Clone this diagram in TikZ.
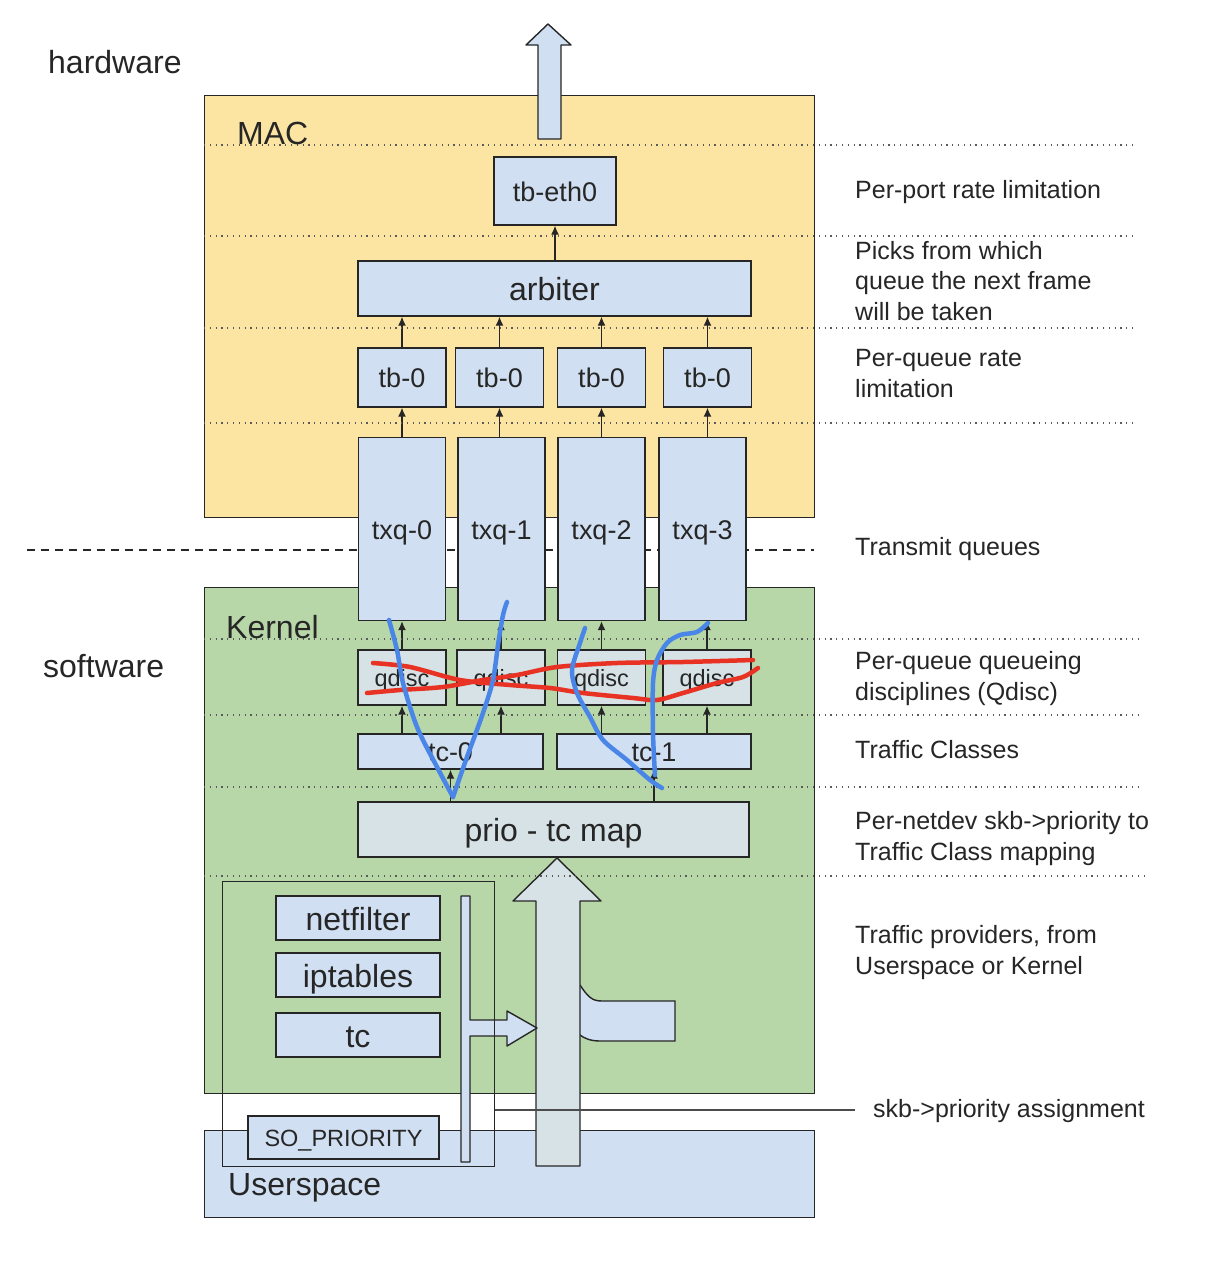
\documentclass[tikz,border=0pt]{standalone}
\usepackage{fontspec}
\setmainfont{Liberation Sans}
\usetikzlibrary{positioning}
\usetikzlibrary{arrows.meta}

\definecolor{macyellow}{RGB}{252,229,163}
\definecolor{kernelgreen}{RGB}{183,215,168}
\definecolor{boxblue}{RGB}{208,223,241}
\definecolor{boxcyan}{RGB}{214,226,230}
\definecolor{penblue}{RGB}{74,134,232}
\definecolor{penred}{RGB}{232,50,36}

\tikzset{
    block/.style={ % light blue boxes
    rectangle, draw=black!85, line width=1.4pt, fill=boxblue,
    inner sep=0pt, text height=21.5pt, text depth=1.3pt,
    font=\fontsize{27}{32}\selectfont},
    bigblock/.style={block, text height=25.5pt, text depth=1.5pt, font=\fontsize{32}{38}\selectfont},
    qbox/.style={block, fill=boxcyan, text height=18.5pt, text depth=1.2pt, font=\fontsize{23.5}{28}\selectfont},
    layer/.style={rectangle, draw=black!85, line width=1.4pt, inner sep=0pt, anchor=north west},
    flow/.style={-{Latex[length=9pt,width=8pt]}, line width=1.3pt, black!85}}

\begin{document}
\begin{tikzpicture}[
            x=1pt, y=-1pt,
            every node/.style={text=black!85},
            areaname/.style={anchor=base west, inner sep=0pt, font=\fontsize{32}{38}\selectfont},
            note/.style={anchor=base west, align=left, inner sep=0pt, font=\fontsize{25}{30.5}\selectfont},
            guide/.style={black!65, line width=1.1pt, dash pattern=on 1.2pt off 4.6pt},
            scribble/.style={line width=4.5pt, line cap=round, line join=round}
        ]
        \useasboundingbox (0,0) rectangle (1224,1264);

        % Layers
        \node[layer, fill=macyellow, minimum width=610, minimum height=422] (mac) at (204,95) {};
        \node[layer, fill=kernelgreen, minimum width=610, minimum height=506] (kernel) at (204,587) {};
        \node[layer, fill=boxblue, minimum width=610, minimum height=87] (userspace) at (204,1130) {};

        % hardware / software boundary
        \draw[black!85, line width=1.2pt, dash pattern=on 8pt off 6pt] (27,550) -- (814,550);

        % Out to the wire
        \filldraw[fill=boxblue, draw=black!85, line width=1.4pt, line join=round]
            (538,139) -- (538,45) -- (526,45) -- (548,24) -- (571,45) -- (561,45) -- (561,139) -- cycle;

        % MAC blocks
        \node[block, minimum width=122, minimum height=68] (tbeth) at (555,191) {tb-eth0};
        \node[bigblock, minimum width=393, minimum height=55] (arbiter) at (554.5,288.5) {arbiter};
        \foreach \n/\x in {0/402,1/499.5,2/601.5,3/707.5}
            \node[block, minimum width=88, minimum height=59] (tb\n) at (\x,377.5) {tb-0};
        \foreach \n/\x in {0/402,1/501.5,2/601.5,3/702.5}
            \node[block, minimum width=87, minimum height=183] (txq\n) at (\x,529) {txq-\n};

        % Kernel blocks
        \foreach \n/\x in {0/402,1/501,2/601.5,3/707}
            \node[qbox, minimum width=88, minimum height=55] (qd\n) at (\x,677.5) {qdisc};
        \node[block, minimum width=185, minimum height=35] (tc0) at (450.5,751.5) {tc-0};
        \node[block, minimum width=194, minimum height=35] (tc1) at (654,751.5) {tc-1};
        \node[bigblock, fill=boxcyan, minimum width=391, minimum height=55] (prio) at (553.5,829.5) {prio - tc map};

        % Traffic providers
        \node[bigblock, minimum width=164, minimum height=44] (netfilter) at (358,918) {netfilter};
        \node[bigblock, minimum width=164, minimum height=44] (iptables) at (358,975) {iptables};
        \node[bigblock, minimum width=164, minimum height=44] (tcprov) at (358,1035) {tc};
        \node[qbox, fill=boxblue, minimum width=191, minimum height=43] (sopriority) at (343.5,1137.5) {SO\_PRIORITY};

        % Connections
        \draw[flow] (arbiter.north -| tbeth) -- (tbeth.south);
        \foreach \n in {0,...,3} {
            \draw[flow] (tb\n.north) -- (tb\n |- arbiter.south);
            \draw[flow] (tb\n |- txq\n.north) -- (tb\n.south);
            \draw[flow] (qd\n.north) -- (qd\n |- txq\n.south);
        }
        \draw[flow] (qd0 |- tc0.north) -- (qd0.south);
        \draw[flow] (qd1 |- tc0.north) -- (qd1.south);
        \draw[flow] (qd2 |- tc1.north) -- (qd2.south);
        \draw[flow] (qd3 |- tc1.north) -- (qd3.south);
        \draw[flow] (prio.north -| tc0) -- (tc0.south);
        \draw[flow] (prio.north -| tc1) -- (tc1.south);

        % Branch leaving the main flow
        \filldraw[fill=boxblue, draw=black!85, line width=1.4pt]
            (580,985) .. controls (588,997) and (592,1001) .. (602,1001) -- (675,1001)
            -- (675,1041) -- (600,1041) .. controls (590,1041) and (584,1038) .. (580,1035);

        % Main flow upwards
        \filldraw[fill=boxcyan, draw=black!85, line width=1.4pt, line join=round]
            (536,1166) -- (536,901) -- (513,901) -- (557,858) -- (601,901) -- (580,901) -- (580,1166) -- cycle;

        % Priority bar feeding the main flow
        \filldraw[fill=boxblue, draw=black!85, line width=1.4pt, line join=round]
            (461,896) -- (470,896) -- (470,1020) -- (507,1020) -- (507,1011) -- (537,1028)
            -- (507,1046) -- (507,1036) -- (470,1036) -- (470,1162) -- (461,1162) -- cycle;

        \node[layer, minimum width=272, minimum height=285] (providers) at (222,881) {};

        % Guides
        \foreach \y/\xe in {145/1137,236/1137,328/1137,423/1137,639/1143,715/1138,787/1142,876/1148}
            \draw[guide] (204,\y) -- (\xe,\y);

        % Names
        \node[areaname] (hwlabel) at (48,73) {hardware};
        \node[areaname] (swlabel) at (43,677) {software};
        \node[areaname] (maclabel) at (237,144) {MAC};
        \node[areaname] (kernellabel) at (226,638) {Kernel};
        \node[areaname] (userlabel) at (228,1195) {Userspace};

        % Notes on the right (base = last line)
        \node[note] (n1) at (855,198) {Per-port rate limitation};
        \node[note] (n2) at (855,320) {Picks from which\\queue the next frame\\will be taken};
        \node[note] (n3) at (855,397) {Per-queue rate\\limitation};
        \node[note] (n4) at (855,555) {Transmit queues};
        \node[note] (n5) at (855,700) {Per-queue queueing\\disciplines (Qdisc)};
        \node[note] (n6) at (855,758) {Traffic Classes};
        \node[note] (n7) at (855,860) {Per-netdev skb->priority to\\Traffic Class mapping};
        \node[note] (n8) at (855,974) {Traffic providers, from\\Userspace or Kernel};
        \node[note] (skbnote) at (873,1117) {skb->priority assignment};
        \coordinate (skbend) at (855,1110);
        \draw[black!70, line width=1.2pt] (providers.east |- skbend) -- (skbend);

        % Pen marks
        \draw[scribble, penred] plot[smooth, tension=0.5] coordinates {(373,663) (410,667) (460,680) (510,685) (550,688) (583,693) (633,698) (657,700) (683,693) (717,683) (743,677) (758,668)};
        \draw[scribble, penred] plot[smooth, tension=0.5] coordinates {(367,693) (400,690) (443,687) (483,680) (517,675) (557,667) (617,663) (683,662) (753,660)};
        \draw[scribble, penblue] plot[smooth, tension=0.5] coordinates {(389,620) (397,650) (403,683) (417,727) (437,767) (453,797)};
        \draw[scribble, penblue] plot[smooth, tension=0.5] coordinates {(453,797) (467,757) (483,713) (493,680) (498,645) (503,615) (507,602)};
        \draw[scribble, penblue] plot[smooth, tension=0.5] coordinates {(585,628) (580,643) (572,670) (577,693) (590,717) (603,740) (627,760) (650,780) (662,788)};
        \draw[scribble, penblue] plot[smooth, tension=0.5] coordinates {(708,623) (697,632) (680,635) (667,643) (657,660) (653,683) (653,733) (655,775)};

    \end{tikzpicture}
\end{document}
